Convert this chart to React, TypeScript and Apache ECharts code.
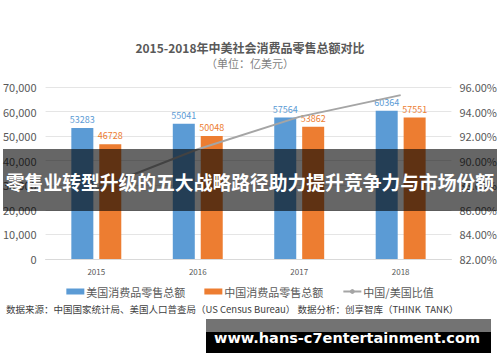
import React, { useEffect, useRef } from "react";
import * as echarts from "echarts";

const years = ["2015", "2016", "2017", "2018"];
const usRetail = [53283, 55041, 57564, 60364];
const cnRetail = [46728, 50048, 53862, 57551];
const ratio = [87.7, 90.93, 93.57, 95.34];
const leftTicks = { min: 0, max: 70000, interval: 10000 };
const rightTicks = { min: 82, max: 96, interval: 2 };

const titleText = "2015-2018年中美社会消费品零售总额对比";
const subText = "（单位：亿美元）";
const seriesNames = ["美国消费品零售总额", "中国消费品零售总额", "中国/美国比值"];
const sourceText = "数据来源：中国国家统计局、美国人口普查局（US Census Bureau） 数据分析：创享智库（THINK  TANK）";
const bannerText = "零售业转型升级的五大战略路径助力提升竞争力与市场份额";
const watermarkText = "www.hans-c7entertainment.com";

const FONT = "'Noto Sans CJK SC', 'Noto Sans', sans-serif";

export default function App() {
  const ref = useRef<HTMLDivElement>(null);
  useEffect(() => {
    const chart = echarts.init(ref.current!, null, { renderer: "svg" });
    chart.setOption({
      animation: false,
      backgroundColor: "#ffffff",
      textStyle: { fontFamily: FONT },
      title: [
        {
          text: titleText,
          left: "center",
          top: 41,
          padding: 0,
          textStyle: { fontSize: 12, fontWeight: "bold", color: "#595959", fontFamily: FONT, lineHeight: 13 },
        },
        {
          text: subText,
          left: "center",
          top: 57,
          padding: 0,
          textStyle: { fontSize: 11, fontWeight: "normal", color: "#7f7f7f", fontFamily: FONT, lineHeight: 12 },
        },
      ],
      grid: { left: 45, right: 47, top: 87, bottom: 103 },
      legend: {
        bottom: 60,
        left: "center",
        itemWidth: 18,
        itemHeight: 6,
        itemGap: 19,
        textStyle: { fontSize: 11, color: "#595959", fontFamily: FONT, padding: [0, 0, 0, -3] },
        data: [
          { name: seriesNames[0], icon: "rect" },
          { name: seriesNames[1], icon: "rect" },
          { name: seriesNames[2] },
        ],
      },
      xAxis: {
        type: "category",
        data: years,
        axisLine: { lineStyle: { color: "#d9d9d9" } },
        axisTick: { show: false },
        axisLabel: { fontSize: 8, color: "#595959", margin: 8 },
      },
      yAxis: [
        {
          type: "value",
          ...leftTicks,
          axisLine: { show: false },
          axisTick: { show: false },
          splitLine: { lineStyle: { color: "#e5e5e5" } },
          axisLabel: { fontSize: 11, color: "#595959", margin: 9 },
        },
        {
          type: "value",
          ...rightTicks,
          axisLine: { show: false },
          axisTick: { show: false },
          splitLine: { show: false },
          axisLabel: {
            fontSize: 11,
            color: "#595959",
            margin: 8,
            formatter: (v: number) => v.toFixed(2) + "%",
          },
        },
      ],
      series: [
        {
          name: seriesNames[0],
          type: "bar",
          data: usRetail,
          barWidth: 22,
          barGap: "27%",
          itemStyle: { color: "#5b9bd5" },
          label: { show: true, position: "top", distance: 4, fontSize: 9, color: "#5b9bd5" },
        },
        {
          name: seriesNames[1],
          type: "bar",
          data: cnRetail,
          barWidth: 22,
          itemStyle: { color: "#ed7d31" },
          label: { show: true, position: "top", distance: 4, fontSize: 9, color: "#ed7d31" },
        },
        {
          name: seriesNames[2],
          type: "line",
          yAxisIndex: 1,
          data: ratio,
          symbol: "none",
          lineStyle: { color: "#a5a5a5", width: 2 },
          itemStyle: { color: "#a5a5a5" },
          label: {
            show: true,
            position: "right",
            distance: 4,
            fontSize: 8,
            fontWeight: "bold",
            color: "#000000",
            formatter: (p: any) => Number(p.value).toFixed(2) + "%",
          },
        },
      ],
      graphic: [
        {
          type: "text",
          left: 6,
          top: 304,
          style: { text: sourceText, fontSize: 9.5, fill: "#404040", fontFamily: FONT },
          z: 50,
        },
        {
          type: "rect",
          shape: { x: 3, y: 149, width: 494, height: 62 },
          style: { fill: "rgba(0,0,0,0.6)" },
          z: 100,
        },
        {
          type: "text",
          x: 250,
          y: 181,
          style: {
            text: bannerText,
            fontSize: 18.8,
            fontWeight: "bold",
            fill: "#ffffff",
            align: "center",
            verticalAlign: "middle",
            fontFamily: FONT,
          },
          z: 101,
        },
        {
          type: "rect",
          shape: { x: 206, y: 319, width: 285, height: 13 },
          style: { fill: "rgba(0,0,0,0.55)" },
          z: 100,
        },
        {
          type: "rect",
          shape: { x: 206, y: 332, width: 285, height: 21 },
          style: { fill: "#000000" },
          z: 100,
        },
        {
          type: "text",
          x: 347,
          y: 338,
          style: {
            text: watermarkText,
            fontSize: 14.5,
            fontWeight: "bold",
            fill: "#ffffff",
            align: "center",
            verticalAlign: "middle",
            fontFamily: "'DejaVu Sans', sans-serif",
          },
          z: 101,
        },
      ],
    });
    return () => chart.dispose();
  }, []);
  return (
    <div
      ref={ref}
      style={{ position: "fixed", left: 0, top: 0, width: 500, height: 362 }}
    />
  );
}
